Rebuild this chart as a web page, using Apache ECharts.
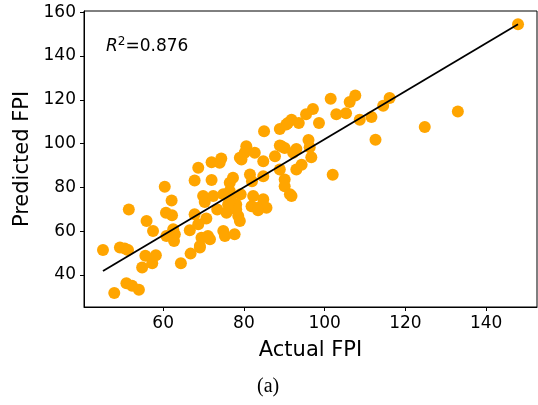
<!DOCTYPE html>
<html>
<head>
<meta charset="utf-8">
<script src="https://cdn.jsdelivr.net/npm/echarts@6/dist/echarts.min.js"></script>
<style>
html,body{margin:0;padding:0;background:#fff;}
#chart{width:538px;height:405px;}
</style>
</head>
<body>
<div id="chart"></div>
<script>
// Actual FPI (x) and Predicted FPI (y) for each sample
const actualFPI = [45.1,47.9,49.3,50.5,51.3,51.5,50.9,52.3,54.0,54.8,55.6,57.3,58.2,55.9,57.5,60.4,62.1,60.7,62.2,62.5,62.9,62.7,64.4,66.6,66.8,67.8,68.7,67.8,68.7,69.1,69.5,69.9,70.3,70.7,71.1,71.6,72.0,72.4,72.0,74.0,73.4,74.9,74.9,75.3,75.7,76.5,77.3,76.9,77.7,78.1,78.6,79.0,79.2,79.4,81.5,82.3,81.9,83.5,84.8,85.6,84.8,88.9,90.1,90.1,91.4,91.8,93.0,
  85.0,88.9,90.9,91.8,88.9,90.1,80.6,80.2,82.7,84.8,87.7,
  147.9,133.0,124.8,112.6,116.1,114.5,111.6,108.7,107.6,106.2,101.5,105.3,102.9,98.6,97.1,95.4,93.6,90.5,96.0,96.3,96.7,93.0,92.2,89.3,94.3,102.0,
  82.0,76.5,78.1,76.1,83.5,60.8,69.1,79.0,74.4];
const predictedFPI = [51.4,31.7,52.5,52.0,51.4,69.9,36.2,35.0,33.2,43.4,48.7,45.3,49.0,64.6,60.0,80.3,74.0,68.4,67.2,60.8,58.5,55.5,45.3,60.4,49.7,83.1,88.9,67.7,63.1,52.5,57.0,76.0,73.3,65.7,57.8,56.3,83.3,76.0,91.5,91.2,69.9,76.8,60.0,57.8,68.4,82.1,84.4,76.0,58.5,72.2,66.9,64.6,76.8,92.7,85.9,76.0,71.4,70.7,74.5,70.7,85.1,88.2,83.6,80.5,76.8,76.0,88.2,
  105.6,106.7,109.4,110.9,99.1,98.0,98.8,95.8,95.8,91.9,94.2,
  154.5,114.7,107.6,101.8,120.8,117.3,112.2,110.9,122.0,119.0,120.5,113.9,113.4,109.4,115.8,113.4,109.4,108.7,101.6,98.3,93.8,97.5,95.8,98.8,90.3,85.8,
  82.8,78.3,69.9,72.2,69.5,57.8,53.2,93.5,93.2];
// Fitted regression line endpoints
const fitX = [45.1, 147.9];
const fitY = [41.8, 154.5];
const xTicks = [60, 80, 100, 120, 140];
const yTicks = [40, 60, 80, 100, 120, 140, 160];
const r2Text = '0.876';

const points = actualFPI.map((v, i) => [v, predictedFPI[i]]);
const fitLine = fitX.map((v, i) => [v, fitY[i]]);

const chart = echarts.init(document.getElementById('chart'), null, {renderer: 'canvas'});
const font = 'DejaVu Sans';
chart.setOption({
  animation: false,
  backgroundColor: '#fff',
  grid: {left: 84, top: 11, width: 453, height: 296, show: true, borderColor: '#000', borderWidth: 1, backgroundColor: 'transparent'},
  xAxis: {
    type: 'value', min: 40.4, max: 152.6,
    name: 'Actual FPI', nameLocation: 'middle', nameGap: 33,
    nameTextStyle: {fontFamily: font, fontSize: 21, color: '#000'},
    axisLine: {show: true, lineStyle: {color: '#000', width: 1}},
    axisTick: {show: true, length: 4, inside: false, customValues: xTicks, lineStyle: {color: '#000'}},
    axisLabel: {customValues: xTicks, margin: 8, fontFamily: font, fontSize: 17, color: '#000'},
    splitLine: {show: false}
  },
  yAxis: {
    type: 'value', min: 25.3, max: 160.6,
    name: 'Predicted FPI', nameLocation: 'middle', nameGap: 51, nameRotate: 90,
    nameTextStyle: {fontFamily: font, fontSize: 21, color: '#000'},
    axisLine: {show: true, lineStyle: {color: '#000', width: 1}},
    axisTick: {show: true, length: 4, inside: false, customValues: yTicks, lineStyle: {color: '#000'}},
    axisLabel: {customValues: yTicks, margin: 8, fontFamily: font, fontSize: 17, color: '#000'},
    splitLine: {show: false}
  },
  series: [
    {
      type: 'scatter', data: points, symbolSize: 12,
      itemStyle: {color: '#FFA500', opacity: 1}, z: 2
    },
    {
      type: 'line', data: fitLine, symbol: 'none',
      lineStyle: {color: '#000', width: 1.8}, z: 3
    }
  ],
  graphic: [
    {
      type: 'text', left: 106, top: 36,
      style: {
        text: '{r|R}{s|2}{n|=' + r2Text + '}',
        rich: {
          r: {fontFamily: font, fontStyle: 'italic', fontSize: 17, fill: '#000'},
          s: {fontFamily: font, fontSize: 12, fill: '#000', verticalAlign: 'top', padding: [0,0,10,0]},
          n: {fontFamily: font, fontSize: 17, fill: '#000'}
        }
      }
    },
    {
      type: 'text', left: 257, top: 377,
      style: {text: '(a)', fontFamily: 'Liberation Serif', fontSize: 20, fill: '#000'}
    }
  ]
});
</script>
</body>
</html>
